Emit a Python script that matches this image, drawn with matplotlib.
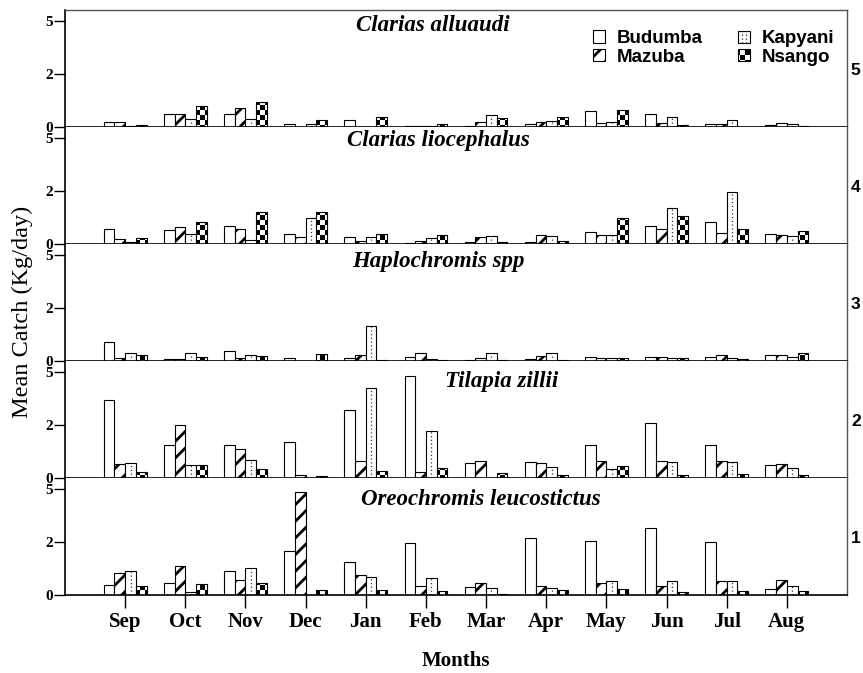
import numpy as np
import matplotlib
matplotlib.use('Agg')
import matplotlib.pyplot as plt
import matplotlib.hatch as mhatch
from matplotlib.path import Path
from matplotlib.patches import Patch, Rectangle
from matplotlib.lines import Line2D

months = ['Sep', 'Oct', 'Nov', 'Dec', 'Jan', 'Feb', 'Mar', 'Apr', 'May', 'Jun', 'Jul', 'Aug']
sites = ['Budumba', 'Mazuba', 'Kapyani', 'Nsango']
species = ['Clarias alluaudi', 'Clarias liocephalus', 'Haplochromis spp',
           'Tilapia zillii', 'Oreochromis leucostictus']
panel_numbers = ['5', '4', '3', '2', '1']

# mean catch per landing site (rows: Budumba, Mazuba, Kapyani, Nsango), Sep..Aug
clarias_alluaudi = [
    [0.25, 0.63, 0.63, 0.13, 0.33, 0.04, 0.03, 0.12, 0.75, 0.63, 0.13, 0.10],
    [0.25, 0.60, 0.91, 0.02, 0.02, 0.06, 0.24, 0.25, 0.20, 0.20, 0.16, 0.17],
    [0.03, 0.39, 0.39, 0.13, 0.02, 0.06, 0.55, 0.28, 0.22, 0.49, 0.33, 0.13],
    [0.11, 1.00, 1.18, 0.31, 0.49, 0.13, 0.44, 0.47, 0.79, 0.10, 0.02, 0.06],
]
clarias_liocephalus = [
    [0.69, 0.66, 0.85, 0.46, 0.33, 0.03, 0.10, 0.10, 0.55, 0.86, 1.04, 0.46],
    [0.22, 0.79, 0.72, 0.31, 0.16, 0.16, 0.31, 0.41, 0.44, 0.69, 0.53, 0.44],
    [0.10, 0.47, 0.19, 1.21, 0.31, 0.28, 0.38, 0.36, 0.41, 1.71, 2.44, 0.39],
    [0.28, 1.04, 1.52, 1.52, 0.49, 0.41, 0.10, 0.16, 1.23, 1.32, 0.69, 0.61],
]
haplochromis = [
    [0.90, 0.09, 0.47, 0.13, 0.13, 0.17, 0.04, 0.09, 0.20, 0.20, 0.20, 0.30],
    [0.16, 0.11, 0.13, 0.00, 0.30, 0.39, 0.13, 0.22, 0.13, 0.19, 0.28, 0.27],
    [0.38, 0.38, 0.28, 0.00, 1.65, 0.09, 0.39, 0.39, 0.16, 0.14, 0.16, 0.19],
    [0.28, 0.19, 0.25, 0.33, 0.03, 0.03, 0.03, 0.05, 0.16, 0.14, 0.11, 0.38],
]
tilapia_zillii = [
    [3.65, 1.54, 1.57, 1.70, 3.22, 4.80, 0.71, 0.74, 1.57, 2.58, 1.57, 0.63],
    [0.68, 2.47, 1.38, 0.16, 0.79, 0.30, 0.82, 0.69, 0.80, 0.79, 0.82, 0.68],
    [0.71, 0.60, 0.85, 0.00, 4.25, 2.23, 0.00, 0.53, 0.42, 0.76, 0.76, 0.49],
    [0.30, 0.63, 0.42, 0.11, 0.33, 0.49, 0.25, 0.16, 0.57, 0.16, 0.19, 0.16],
]
oreochromis = [
    [0.47, 0.55, 1.15, 2.06, 1.56, 2.44, 0.39, 2.69, 2.56, 3.15, 2.50, 0.27],
    [1.05, 1.35, 0.72, 4.84, 0.94, 0.41, 0.55, 0.44, 0.55, 0.44, 0.66, 0.72],
    [1.12, 0.16, 1.26, 0.00, 0.85, 0.82, 0.33, 0.33, 0.68, 0.68, 0.68, 0.41],
    [0.44, 0.52, 0.55, 0.22, 0.22, 0.19, 0.03, 0.24, 0.28, 0.16, 0.20, 0.19],
]
catches = [clarias_alluaudi, clarias_liocephalus, haplochromis, tilapia_zillii, oreochromis]

plt.rcParams['font.family'] = ['Liberation Serif', 'DejaVu Serif']
plt.rcParams['hatch.linewidth'] = 2.0


class CheckerHatch(mhatch.HatchPatternBase):
    """Filled checkerboard; takes the place of the 'o' hatch."""
    filled = True

    def __init__(self, hatch, density):
        self.cells = hatch.count('o') * 20
        self.num_vertices = (self.cells * self.cells // 2) * 5

    def set_vertices_and_codes(self, vertices, codes):
        n = self.cells
        step = 1.0 / n
        inset = plt.rcParams['hatch.linewidth'] / 72.0 / 2
        k = 0
        for i in range(n):
            for j in range(n):
                if (i + j) % 2:
                    continue
                x0, x1 = i * step + inset, (i + 1) * step - inset
                y0, y1 = j * step + inset, (j + 1) * step - inset
                vertices[k:k + 5] = [(x0, y0), (x1, y0), (x1, y1), (x0, y1), (x0, y0)]
                codes[k:k + 5] = [Path.MOVETO, Path.LINETO, Path.LINETO,
                                  Path.LINETO, Path.CLOSEPOLY]
                k += 5


mhatch._hatch_types[mhatch._hatch_types.index(mhatch.SmallCircles)] = CheckerHatch


class DottedBox:
    # legend key for Kapyani: white box with dotted vertical lines
    def legend_artist(self, legend, orig_handle, fontsize, handlebox):
        x0, y0 = handlebox.xdescent, handlebox.ydescent
        w, h = handlebox.width, handlebox.height
        t = handlebox.get_transform()
        box = Rectangle((x0, y0), w, h, facecolor='white', edgecolor='black',
                        lw=0.8, transform=t)
        handlebox.add_artist(box)
        for fx in (0.33, 0.67):
            handlebox.add_artist(Line2D([x0 + fx * w] * 2, [y0, y0 + h], color='#333333',
                                        lw=0.9, ls=(0, (1, 2)), transform=t))
        return box


fig = plt.figure(figsize=(8.63, 6.73), dpi=100)

x = np.arange(len(months))
bar_w = 0.178
offsets = (np.arange(4) - 1.5) * bar_w
hatches = [None, '//', None, 'o']

left, width = 65 / 863, 782 / 863
panel_h = 117 / 673
title_x = [0.470, 0.478, 0.478, 0.558, 0.532]
title_y = [0.82, 0.84, 0.806, 0.78, 0.77]

axes = []
for k, (name, data) in enumerate(zip(species, catches)):
    bottom = 1 - (10 + 117 * (k + 1)) / 673
    ax = fig.add_axes([left, bottom, width, panel_h])
    axes.append(ax)
    for s in range(4):
        ax.bar(x + offsets[s], data[s], bar_w, color='white', edgecolor='black',
               linewidth=0.8, hatch=hatches[s])
    # Kapyani bars carry a dotted line down the middle
    ax.vlines(x + offsets[2], 0, data[2], colors='#333333', linestyles=(0, (1, 2)), lw=0.9)

    ax.set_xlim(-1, 12)
    ax.set_ylim(0, 5.5)
    ax.set_yticks([0, 2.5, 5], ['0', '2', '5'])
    ax.tick_params(axis='y', direction='out', length=8, width=1, pad=1, labelsize=11)
    plt.setp(ax.get_yticklabels(), fontweight='bold')

    for side in ('left', 'bottom'):
        ax.spines[side].set_color('black')
        ax.spines[side].set_linewidth(1.2)
    ax.spines['right'].set_color('#555555')
    ax.spines['right'].set_linewidth(1.0)
    if k == 0:
        ax.spines['top'].set_color('#555555')
        ax.spines['top'].set_linewidth(1.0)
    else:
        ax.spines['top'].set_visible(False)

    ax.text(title_x[k], title_y[k], name, transform=ax.transAxes, ha='center',
            va='baseline', fontsize=16.5, fontstyle='italic', fontweight='bold')
    ax.text(1.005, 0.48, panel_numbers[k], transform=ax.transAxes, ha='left', va='center',
            fontsize=12.5, fontweight='bold', family='Liberation Sans')

    if k < 4:
        ax.set_xticks(x)
        ax.tick_params(axis='x', length=0, labelbottom=False)
    else:
        ax.set_xticks(x, months)
        ax.tick_params(axis='x', direction='out', length=9.5, width=1, pad=3, labelsize=15)
        plt.setp(ax.get_xticklabels(), fontweight='bold')

kap_key = Patch(facecolor='white', edgecolor='black')
handles = [Patch(facecolor='white', edgecolor='black', lw=0.8),
           Patch(facecolor='white', edgecolor='black', lw=0.8, hatch='//'),
           kap_key,
           Patch(facecolor='white', edgecolor='black', lw=0.8, hatch='o')]
axes[0].legend(handles, sites, ncol=2, loc='upper left', bbox_to_anchor=(0.675, 0.83),
               frameon=False, handler_map={kap_key: DottedBox()},
               prop=dict(family='Liberation Sans', weight='bold', size=13.5),
               handlelength=0.65, handleheight=0.65, handletextpad=0.6,
               labelspacing=0.1, columnspacing=1.9, borderpad=0, borderaxespad=0)

fig.text(22 / 863, 1 - 311.5 / 673, 'Mean Catch (Kg/day)', rotation=90,
         ha='center', va='center', fontsize=17.5)
fig.text(456 / 863, 1 - 666 / 673, 'Months', ha='center', va='baseline',
         fontsize=15, fontweight='bold')

fig.savefig('out.png', dpi=100)
